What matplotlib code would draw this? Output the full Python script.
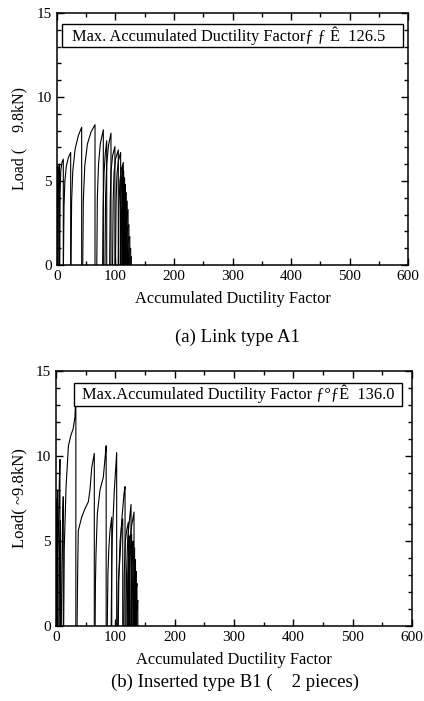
import matplotlib
matplotlib.use("Agg")
import matplotlib.pyplot as plt
from matplotlib.patches import Rectangle
from matplotlib.ticker import MultipleLocator

plt.rcParams["font.family"] = ["Liberation Serif", "DejaVu Serif"]

# Panel (a): Link type A1 -- each loop is (x points, load points)
loops_a = [
    ([0, 0.4, 1, 2, 2], [0, 3.5, 5.2, 5.9, 0]),
    ([1.5, 2.2, 3.2, 4.5, 4.5], [0, 4.0, 5.5, 6.0, 0]),
    ([4.5, 5.2, 6.5, 8.5, 10.8, 10.8], [0, 4.2, 5.6, 6.1, 6.3, 0]),
    ([11, 12, 13.5, 16, 19.5, 23.4, 23.4], [0, 3.5, 5.0, 5.9, 6.4, 6.7, 0]),
    ([24, 25, 27, 31, 36.5, 42.2, 42.2], [0, 3.8, 5.6, 6.9, 7.7, 8.2, 0]),
    ([44, 45, 47.5, 52, 58, 65, 65], [0, 3.8, 5.9, 7.2, 7.9, 8.35, 0]),
    ([68, 69, 71, 74, 79.2, 79.2], [0, 4.0, 6.0, 7.2, 8.05, 0]),
    ([78, 79, 80.5, 82.5, 85, 85], [0, 3.5, 5.5, 6.6, 7.4, 0]),
    ([82, 83, 85, 88, 92.3, 92.3], [0, 4.0, 6.0, 7.1, 7.85, 0]),
    ([90, 91, 92.5, 95, 99, 99], [0, 3.8, 5.6, 6.5, 7.05, 0]),
    ([95, 96, 97.5, 100, 104.8, 104.8], [0, 3.8, 5.5, 6.3, 6.85, 0]),
    ([100, 101, 102.5, 105, 108.8, 108.8], [0, 3.7, 5.4, 6.2, 6.7, 0]),
    ([105, 106, 107.5, 110, 113.4, 113.4], [0, 3.5, 5.0, 5.7, 6.1, 0]),
    ([108, 109, 110.5, 112, 112], [0, 3.5, 5.2, 5.9, 0]),
    ([109.5, 110.5, 112, 114, 114], [0, 3.4, 5.0, 5.6, 0]),
    ([111, 112, 113.5, 115.5, 115.5], [0, 3.2, 4.7, 5.2, 0]),
    ([112.5, 113.5, 115, 117, 117], [0, 3.0, 4.3, 4.8, 0]),
    ([114, 115, 116.5, 118.5, 118.5], [0, 2.8, 3.9, 4.3, 0]),
    ([115.5, 116.5, 118, 120, 120], [0, 2.5, 3.5, 3.8, 0]),
    ([117, 118, 119.5, 121.5, 121.5], [0, 2.2, 3.0, 3.3, 0]),
    ([118.5, 119.5, 121, 123, 123], [0, 1.8, 2.3, 2.4, 0]),
    ([120, 121, 122.5, 124.5, 124.5], [0, 1.2, 1.6, 1.7, 0]),
    ([121.5, 122.5, 124, 126, 126], [0, 0.7, 0.9, 1.0, 0]),
    ([123, 124, 125.5, 127, 127], [0, 0.35, 0.45, 0.5, 0]),
]

# Panel (b): Inserted type B1
loops_b = [
    ([0, 0.3, 1, 2, 2], [0, 4.0, 6.5, 7.5, 0]),
    ([1, 1.5, 2.2, 2.8, 2.8], [0, 4.5, 7.0, 8.0, 0]),
    ([3, 3.5, 4.5, 5.5, 6.7, 6.7], [0, 4.0, 6.5, 8.2, 9.8, 0]),
    ([5, 5.5, 6.5, 7.5, 7.5], [0, 3.0, 5.0, 6.2, 0]),
    ([9, 10, 11, 12.3, 12.3], [0, 3.5, 6.0, 7.6, 0]),
    ([13, 14, 17, 21, 25, 29, 32, 33.5, 33.5],
     [0, 4.6, 8.2, 10.6, 11.2, 11.6, 12.3, 13.6, 0]),
    ([35.5, 36.5, 37.6, 43.3, 48.9, 54.5, 57.3, 60.2, 64.6, 64.6],
     [0, 3.0, 5.6, 6.4, 6.9, 7.3, 8.0, 9.3, 10.15, 0]),
    ([66, 66.5, 67.5, 69.7, 74.2, 79.8, 84.3, 84.6, 84.6],
     [0, 2.5, 4.3, 6.6, 8.0, 8.75, 10.5, 10.6, 0]),
    ([86.5, 87.5, 89, 91, 94, 94], [0, 3.0, 4.5, 5.6, 6.4, 0]),
    ([93, 94, 95, 98.4, 102.3, 102.3], [0, 3.5, 5.4, 8.0, 10.2, 0]),
    ([104, 105, 108, 110.8, 114.7, 116.4, 116.4], [0, 2.5, 4.1, 6.2, 7.8, 8.2, 0]),
    ([105, 106, 108, 110.5, 112.5, 112.5], [0, 3.0, 5.0, 5.9, 6.3, 0]),
    ([114, 115, 117, 119, 122, 122], [0, 3.0, 5.0, 5.6, 6.1, 0]),
    ([118, 119, 121, 124, 126.5, 126.5], [0, 3.2, 5.2, 6.3, 7.15, 0]),
    ([121, 122, 124, 127.5, 131.5, 131.5], [0, 3.0, 4.8, 5.9, 6.7, 0]),
    ([120, 121, 122.5, 124, 124], [0, 3.0, 4.5, 5.3, 0]),
    ([123, 124, 125.5, 127.5, 127.5], [0, 3.0, 4.6, 5.4, 0]),
    ([126, 127, 128.5, 130, 130], [0, 2.8, 4.3, 5.0, 0]),
    ([128, 129, 130.5, 132.5, 132.5], [0, 2.6, 4.0, 4.6, 0]),
    ([130, 131, 132.5, 134, 134], [0, 2.3, 3.4, 3.9, 0]),
    ([131.5, 132.5, 134, 135.5, 135.5], [0, 2.0, 2.9, 3.2, 0]),
    ([133, 134, 135.5, 136.5, 136.5], [0, 1.5, 2.2, 2.5, 0]),
    ([134.5, 135.5, 137, 138, 138], [0, 0.8, 1.3, 1.5, 0]),
]

box_a = "Max. Accumulated Ductility Factor\u0192 \u0192 \u00ca  126.5"
box_b = "Max.Accumulated Ductility Factor \u0192\u00b0\u0192\u00ca  136.0"
ylabel_a = "Load (    9.8kN)"
ylabel_b = "Load( ~9.8kN)"
xlabel = "Accumulated Ductility Factor"
caption_a = "(a) Link type A1"
caption_b = "(b) Inserted type B1 (    2 pieces)"


def style_axes(ax):
    ax.set_xlim(0, 600)
    ax.set_ylim(0, 15)
    ax.xaxis.set_major_locator(MultipleLocator(100))
    ax.xaxis.set_minor_locator(MultipleLocator(50))
    ax.yaxis.set_major_locator(MultipleLocator(5))
    ax.yaxis.set_minor_locator(MultipleLocator(1))
    ax.tick_params(which="both", direction="in", top=True, right=True,
                   labelsize=11, width=1)
    ax.tick_params(which="major", length=5)
    ax.tick_params(which="minor", length=3)
    for s in ax.spines.values():
        s.set_linewidth(1.1)


def draw_loops(ax, loops):
    for xs, ys in loops:
        ax.plot(xs, ys, color="black", linewidth=0.8)


def draw_box(ax, x0, x1, y0, y1, tx, text):
    ax.add_patch(Rectangle((x0, y0), x1 - x0, y1 - y0, transform=ax.transAxes,
                           fc="white", ec="black", lw=1, zorder=4))
    ax.text(tx, (y0 + y1) / 2, text, transform=ax.transAxes, fontsize=11.8,
            va="center", ha="left", zorder=5)


fig = plt.figure(figsize=(4.24, 7.01), dpi=100)

ax_a = fig.add_axes([0.1344, 0.622, 0.8279, 0.3595])
draw_loops(ax_a, loops_a)
style_axes(ax_a)
ax_a.set_xlabel(xlabel, fontsize=11.8, labelpad=6)
ax_a.set_ylabel(ylabel_a, fontsize=11.5, labelpad=7)
draw_box(ax_a, 0.014, 0.986, 0.865, 0.956, 0.043, box_a)
fig.text(0.56, 1 - 337 / 701, caption_a, fontsize=13.5, ha="center", va="center")

ax_b = fig.add_axes([0.132, 0.107, 0.8397, 0.3638])
draw_loops(ax_b, loops_b)
style_axes(ax_b)
ax_b.set_xlabel(xlabel, fontsize=11.8, labelpad=6)
ax_b.set_ylabel(ylabel_b, fontsize=12, labelpad=6)
draw_box(ax_b, 0.051, 0.972, 0.864, 0.954, 0.073, box_b)
fig.text(0.555, 1 - 682 / 701, caption_b, fontsize=13.5, ha="center", va="center")

fig.savefig("out.png", dpi=100)
